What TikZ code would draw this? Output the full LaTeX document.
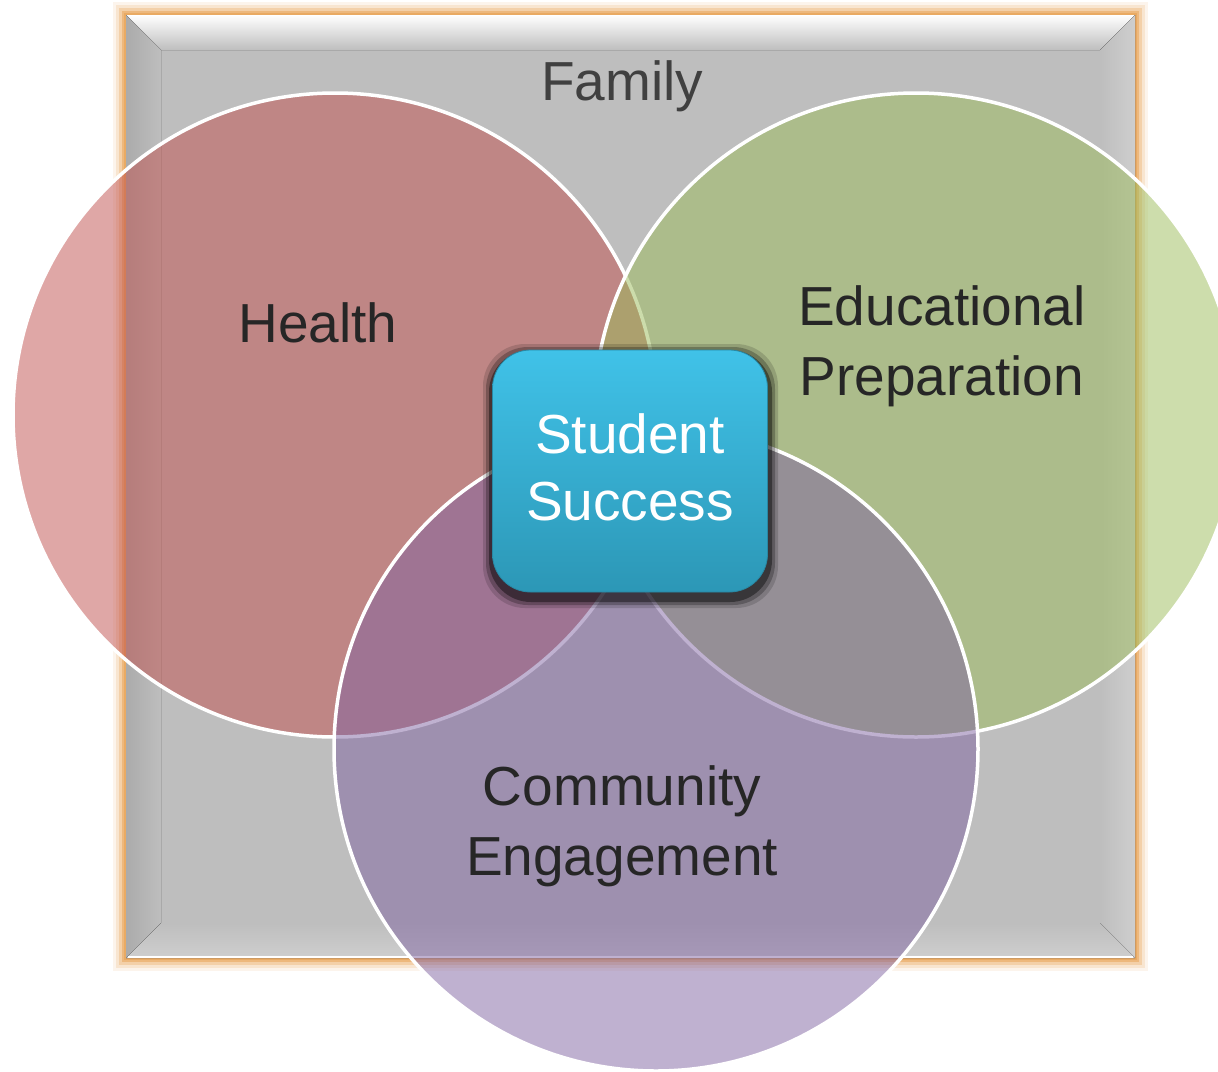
\documentclass[tikz,border=0pt]{standalone}
\usepackage{fontspec}
\setmainfont{Liberation Sans}
\definecolor{healthred}{HTML}{C0504D}
\definecolor{edugreen}{HTML}{9BBB59}
\definecolor{commpurple}{HTML}{8064A2}
\definecolor{familygray}{HTML}{BEBEBE}
\definecolor{gloworange}{HTML}{E9A860}
\definecolor{boxtop}{HTML}{40C2E8}
\definecolor{boxbottom}{HTML}{2C97B6}
\definecolor{textgray}{HTML}{262626}
\begin{document}
\begin{tikzpicture}[x=1pt,y=-1pt,
        labeltext/.style={text=textgray, font=\fontsize{55}{70}\selectfont, align=center, inner sep=0pt},
        venn/.style={fill=#1, fill opacity=0.5, draw=white, line width=3.5pt}]
        \useasboundingbox (0,0) rectangle (1218,1071);
        
        % Draw the orange glow round the family frame
        \foreach \w/\o in {26/0.12, 20/0.2, 14/0.35, 8/0.6, 4/0.9}
            \draw[gloworange, line width=\w pt, opacity=\o] (126,15) rectangle (1135,958);
        
        % Draw the family frame with its bevel
        \fill[familygray] (126,15) rectangle (1135,958);
        \fill[top color=white, bottom color=familygray] (126,15) -- (1135,15) -- (1100,50) -- (161,50) -- cycle;
        \fill[left color=black!33, right color=familygray] (126,15) -- (161,50) -- (161,923) -- (126,958) -- cycle;
        \fill[left color=familygray, right color=familygray!75!white] (1135,15) -- (1100,50) -- (1100,923) -- (1135,958) -- cycle;
        \fill[top color=familygray, bottom color=familygray!75!white] (126,958) -- (161,923) -- (1100,923) -- (1135,958) -- cycle;
        \draw[white, line width=1.5pt] (128,957) -- (1133,957);
        \node[labeltext, text=black!75, anchor=base] (family) at (622,100) {Family};
        
        % Centres of the three circles
        \coordinate (H) at (335,415);
        \coordinate (E) at (916,415);
        \coordinate (C) at (656,749);
        
        % Draw the circles
        \draw[venn=healthred] (H) circle (322);
        \draw[venn=edugreen] (E) circle (322);
        \draw[venn=commpurple] (C) circle (322);
        
        % Label the circles
        \node[labeltext, anchor=base] (health) at (318,342) {Health};
        \node[labeltext] (edu) at (942,346) {Educational\\Preparation};
        \node[labeltext] (comm) at (622,826) {Community\\Engagement};
        
        % Draw the shadow of the centre box
        \foreach \d/\o in {10/0.15, 7/0.25, 4/0.4}
            \fill[black, opacity=\o, rounded corners=42] (493-\d,354-\d) rectangle (768+\d,598+\d);
        
        % Draw the centre box
        \node[draw=boxbottom!90!black, line width=0.8pt, top color=boxtop, bottom color=boxbottom,
              rounded corners=38, minimum width=275, minimum height=242, inner sep=0pt] (box) at (630,471) {};
        \node[labeltext, text=white, font=\fontsize{55}{67}\selectfont] (success) at (630,467) {Student\\Success};
\end{tikzpicture}
\end{document}
